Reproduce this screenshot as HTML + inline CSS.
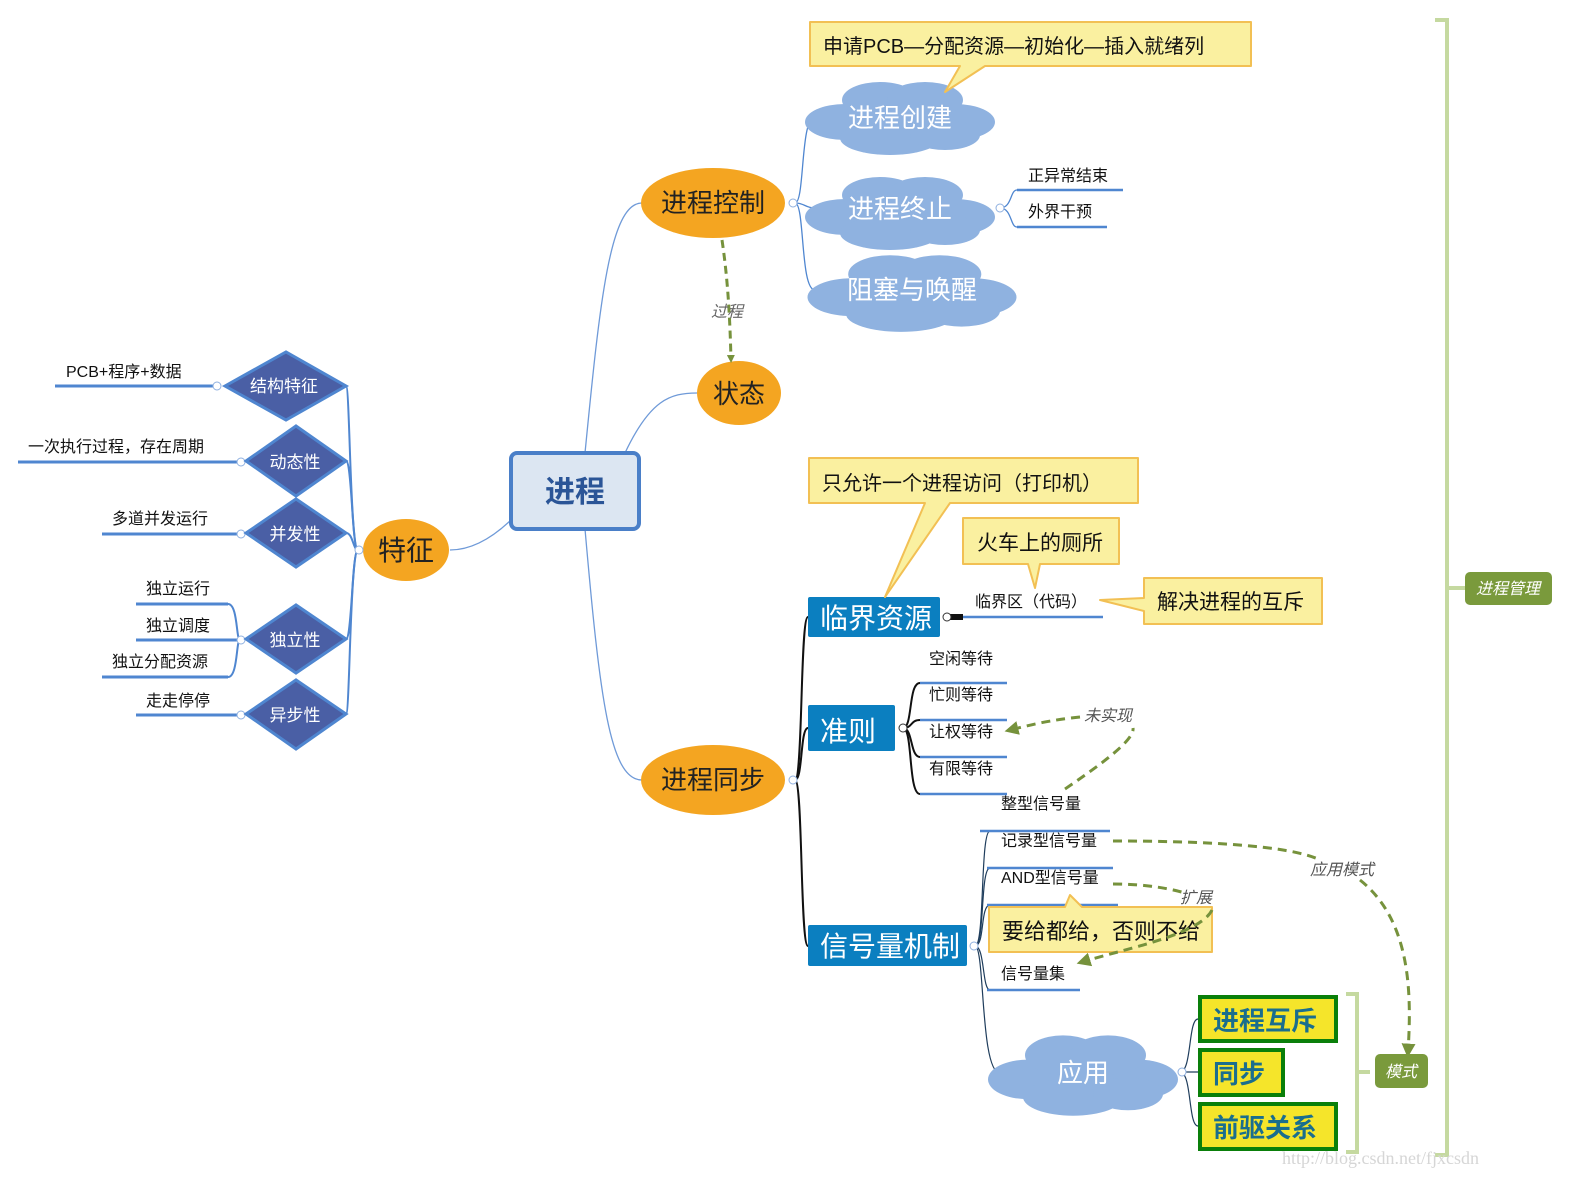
<!DOCTYPE html>
<html><head><meta charset="utf-8"><style>
html,body{margin:0;padding:0;background:#fff;}
svg{display:block;font-family:"Liberation Sans","Noto Sans CJK SC",sans-serif;}
</style></head><body>
<svg width="1589" height="1192" viewBox="0 0 1589 1192" xmlns="http://www.w3.org/2000/svg">
<defs>
<marker id="ar" markerWidth="8" markerHeight="8" refX="5" refY="4" orient="auto" markerUnits="userSpaceOnUse"><path d="M0,0 L8,4 L0,8 z" fill="#76923c"/></marker>
<marker id="ar2" viewBox="0 0 10 10" markerWidth="14" markerHeight="14" refX="6" refY="5" orient="auto" markerUnits="userSpaceOnUse"><path d="M0,0 L10,5 L0,10 z" fill="#76923c"/></marker>
<g id="cloud">
<ellipse cx="0" cy="0" rx="70" ry="22"/>
<ellipse cx="-55" cy="4" rx="40" ry="18"/>
<ellipse cx="55" cy="4" rx="40" ry="18"/>
<ellipse cx="-20" cy="-18" rx="38" ry="18"/>
<ellipse cx="25" cy="-18" rx="38" ry="18"/>
<ellipse cx="-10" cy="20" rx="50" ry="17"/>
<ellipse cx="45" cy="17" rx="35" ry="15"/>
</g>
</defs>

<g fill="none" stroke="#6f9ad8" stroke-width="1.3">
<path d="M585,453 C600,300 610,203 642,203"/>
<path d="M625,453 C650,400 670,393 697,393"/>
<path d="M511,520 C490,540 470,550 450,550"/>
<path d="M585,529 C600,700 610,780 642,780"/>
</g>

<rect x="511" y="453" width="128" height="76" rx="6" fill="#dce6f2" stroke="#4a7fc8" stroke-width="4"/>
<text x="575" y="502" font-size="30" font-weight="bold" fill="#2b5597" text-anchor="middle">进程</text>

<g fill="#f4a521">
<ellipse cx="713" cy="203" rx="72" ry="35"/>
<ellipse cx="739" cy="393" rx="42" ry="32"/>
<ellipse cx="406" cy="550" rx="43" ry="31"/>
<ellipse cx="713" cy="780" rx="72" ry="35"/>
</g>
<g font-size="26" fill="#222" text-anchor="middle">
<text x="713" y="212">进程控制</text>
<text x="739" y="403">状态</text>
<text x="406" y="560" font-size="28">特征</text>
<text x="713" y="789">进程同步</text>
</g>

<path d="M722,240 C728,280 730,320 731,360" fill="none" stroke="#76923c" stroke-width="3" stroke-dasharray="8,5" marker-end="url(#ar)"/>
<text x="727" y="317" font-size="16" font-style="italic" fill="#666" text-anchor="middle">过程</text>

<g fill="none" stroke="#4f86d0" stroke-width="2">
<path d="M358,550 C350,550 350,386 346,386"/>
<path d="M358,550 C352,550 352,461 346,461"/>
<path d="M358,550 C353,550 353,533 346,533"/>
<path d="M358,550 C352,550 352,639 346,639"/>
<path d="M358,550 C350,550 350,714 346,714"/>
<line x1="55" y1="386" x2="215" y2="386" stroke-width="3"/>
<line x1="18" y1="462" x2="240" y2="462" stroke-width="3"/>
<line x1="102" y1="534" x2="240" y2="534" stroke-width="3"/>
<line x1="136" y1="604" x2="228" y2="604" stroke-width="3"/>
<line x1="136" y1="640" x2="240" y2="640" stroke-width="3"/>
<line x1="102" y1="677" x2="228" y2="677" stroke-width="3"/>
<line x1="136" y1="715" x2="240" y2="715" stroke-width="3"/>
<path d="M228,604 C238,604 236,640 240,640 C236,640 238,677 228,677"/>
</g>
<g fill="#fff" stroke="#8fb0e0" stroke-width="1">
<circle cx="217" cy="386" r="4"/><circle cx="241" cy="462" r="4"/><circle cx="241" cy="534" r="4"/><circle cx="241" cy="640" r="4"/><circle cx="241" cy="715" r="4"/><circle cx="359" cy="550" r="4"/>
</g>
<g fill="#4a5fa5" stroke="#4f86d0" stroke-width="3">
<polygon points="225,386 286,352 346,386 286,420"/>
<polygon points="246,461 296,426 346,461 296,496"/>
<polygon points="246,533 296,499 346,533 296,567"/>
<polygon points="246,639 296,605 346,639 296,673"/>
<polygon points="246,714 296,680 346,714 296,749"/>
</g>
<g font-size="17" fill="#fff" text-anchor="middle">
<text x="284" y="392">结构特征</text>
<text x="295" y="468">动态性</text>
<text x="295" y="540">并发性</text>
<text x="295" y="646">独立性</text>
<text x="295" y="721">异步性</text>
</g>
<g font-size="16" fill="#111">
<text x="66" y="377">PCB+程序+数据</text>
<text x="28" y="452">一次执行过程，存在周期</text>
<text x="112" y="524">多道并发运行</text>
<text x="146" y="594">独立运行</text>
<text x="146" y="631">独立调度</text>
<text x="112" y="667">独立分配资源</text>
<text x="146" y="706">走走停停</text>
</g>

<g fill="none" stroke="#4f86d0" stroke-width="1.3">
<path d="M795,203 C805,203 800,117 815,117"/>
<path d="M795,203 C805,203 805,208 815,208"/>
<path d="M795,203 C805,203 800,290 815,290"/>
<path d="M1000,208 C1012,208 1010,190 1017,190"/>
<path d="M1000,208 C1012,208 1010,227 1017,227"/>
</g>
<g stroke="#4f86d0" stroke-width="2.5">
<line x1="1017" y1="190" x2="1123" y2="190"/>
<line x1="1017" y1="227" x2="1107" y2="227"/>
</g>
<g fill="#fff" stroke="#8fb0e0"><circle cx="793" cy="203" r="4"/><circle cx="1000" cy="208" r="4"/></g>
<g fill="#8fb2e0">
<use href="#cloud" x="900" y="118"/>
<use href="#cloud" x="900" y="213"/>
<use href="#cloud" transform="translate(912,293) scale(1.1,1.05)"/>
</g>
<g font-size="26" fill="#fff" text-anchor="middle">
<text x="900" y="127">进程创建</text>
<text x="900" y="218">进程终止</text>
<text x="912" y="299">阻塞与唤醒</text>
</g>
<g font-size="16" fill="#111">
<text x="1028" y="181">正异常结束</text>
<text x="1028" y="217">外界干预</text>
</g>
<path d="M810,22 H1251 V66 H985 L945,92 L960,66 H810 Z" fill="#faf0a0" stroke="#f2c054" stroke-width="2" stroke-linejoin="round"/>
<text x="823" y="53" font-size="20" fill="#111">申请PCB—分配资源—初始化—插入就绪列</text>

<g fill="none" stroke="#111" stroke-width="2">
<path d="M795,780 C803,780 800,617 808,617"/>
<path d="M795,780 C803,780 800,728 808,728"/>
<path d="M795,780 C803,780 800,946 808,946"/>
<path d="M903,728 C913,728 908,683 920,683"/>
<path d="M903,728 C913,728 910,720 920,720"/>
<path d="M903,728 C913,728 910,757 920,757"/>
<path d="M903,728 C913,728 908,794 920,794"/>
</g>
<g fill="none" stroke="#1f3d5c" stroke-width="1.2">
<path d="M975,946 C985,946 980,831 990,831"/>
<path d="M975,946 C985,946 980,868 990,868"/>
<path d="M975,946 C985,946 980,905 990,905"/>
<path d="M975,946 C985,946 982,990 990,990"/>
<path d="M975,946 C985,946 980,1073 1000,1073"/>
<path d="M1180,1072 C1192,1072 1188,1019 1198,1019"/>
<path d="M1180,1072 C1192,1072 1190,1072 1198,1072"/>
<path d="M1180,1072 C1192,1072 1188,1126 1198,1126"/>
</g>
<g stroke="#4f86d0" stroke-width="2.5">
<line x1="960" y1="617" x2="1103" y2="617"/>
<line x1="920" y1="683" x2="1007" y2="683"/>
<line x1="920" y1="720" x2="1007" y2="720"/>
<line x1="920" y1="757" x2="1007" y2="757"/>
<line x1="920" y1="794" x2="1007" y2="794"/>
<line x1="980" y1="831" x2="1110" y2="831"/>
<line x1="987" y1="868" x2="1113" y2="868"/>
<line x1="987" y1="905" x2="1118" y2="905"/>
<line x1="987" y1="990" x2="1080" y2="990"/>
</g>
<rect x="945" y="614" width="18" height="6" fill="#111"/>
<g fill="#fff" stroke="#8fb0e0"><circle cx="793" cy="780" r="4"/><circle cx="974" cy="946" r="4"/><circle cx="1182" cy="1072" r="4"/></g>
<g fill="#fff" stroke="#333"><circle cx="947" cy="617" r="4"/><circle cx="903" cy="728" r="4"/></g>

<g fill="#0b7fc0">
<rect x="808" y="597" width="132" height="40" rx="2"/>
<rect x="808" y="705" width="87" height="46" rx="2"/>
<rect x="808" y="925" width="159" height="41" rx="2"/>
</g>
<g font-size="28" fill="#fff">
<text x="820" y="628">临界资源</text>
<text x="820" y="741">准则</text>
<text x="820" y="956">信号量机制</text>
</g>

<path d="M809,458 H1138 V503 H950 L885,597 L925,503 H809 Z" fill="#faf0a0" stroke="#f2c054" stroke-width="2" stroke-linejoin="round"/>
<text x="822" y="490" font-size="20" fill="#111">只允许一个进程访问（打印机）</text>
<path d="M963,518 H1119 V564 H1040 L1035,588 L1028,564 H963 Z" fill="#faf0a0" stroke="#f2c054" stroke-width="2" stroke-linejoin="round"/>
<text x="977" y="550" font-size="21" fill="#111">火车上的厕所</text>
<path d="M1144,578 H1322 V624 H1144 V611 L1100,600 L1144,598 Z" fill="#faf0a0" stroke="#f2c054" stroke-width="2" stroke-linejoin="round"/>
<text x="1157" y="609" font-size="21" fill="#111">解决进程的互斥</text>
<path d="M989,907 H1065 L1070,895 L1082,907 H1212 V952 H989 Z" fill="#faf0a0" stroke="#f2c054" stroke-width="2" stroke-linejoin="round"/>
<text x="1002" y="939" font-size="22" fill="#111">要给都给，否则不给</text>

<g font-size="16" fill="#111">
<text x="975" y="607">临界区（代码）</text>
<text x="929" y="664">空闲等待</text>
<text x="929" y="700">忙则等待</text>
<text x="929" y="737">让权等待</text>
<text x="929" y="774">有限等待</text>
<text x="1001" y="809">整型信号量</text>
<text x="1001" y="846">记录型信号量</text>
<text x="1001" y="883">AND型信号量</text>
<text x="1001" y="979">信号量集</text>
</g>

<g fill="none" stroke="#76923c" stroke-width="3" stroke-dasharray="9,6">
<path d="M1065,789 C1100,765 1135,740 1133,728"/>
<path d="M1080,717 C1050,720 1030,725 1010,730" marker-end="url(#ar2)"/>
<path d="M1113,841 C1200,841 1290,845 1320,860"/>
<path d="M1360,880 C1410,920 1412,990 1408,1052" marker-end="url(#ar2)"/>
<path d="M1113,884 C1150,884 1175,890 1185,893"/>
<path d="M1212,910 C1200,935 1120,950 1082,962" marker-end="url(#ar2)"/>
</g>
<g font-size="16" font-style="italic" fill="#555">
<text x="1084" y="721">未实现</text>
<text x="1310" y="875">应用模式</text>
<text x="1180" y="903">扩展</text>
</g>

<use href="#cloud" transform="translate(1083,1075) scale(1.0,1.1)" fill="#8fb2e0"/>
<text x="1083" y="1082" font-size="26" fill="#fff" text-anchor="middle">应用</text>

<g fill="#f5e52a" stroke="#0a7f0a" stroke-width="4">
<rect x="1200" y="997" width="136" height="44"/>
<rect x="1200" y="1050" width="83" height="45"/>
<rect x="1200" y="1104" width="136" height="45"/>
</g>
<g font-size="26" font-weight="bold" fill="#1a6e8e">
<text x="1213" y="1030">进程互斥</text>
<text x="1213" y="1083">同步</text>
<text x="1213" y="1137">前驱关系</text>
</g>

<g fill="none" stroke="#c5d9a0" stroke-width="4">
<path d="M1346,994 H1357 V1152 H1346"/>
<line x1="1357" y1="1072" x2="1370" y2="1072"/>
<path d="M1435,20 H1447 V1155 H1435"/>
<line x1="1447" y1="588" x2="1465" y2="588"/>
</g>
<rect x="1375" y="1054" width="53" height="34" rx="5" fill="#7a9a3c"/>
<text x="1401" y="1077" font-size="16" font-style="italic" fill="#fff" text-anchor="middle">模式</text>
<rect x="1465" y="572" width="87" height="33" rx="5" fill="#7a9a3c"/>
<text x="1508" y="594" font-size="16" font-style="italic" fill="#fff" text-anchor="middle">进程管理</text>

<text x="1282" y="1164" font-size="18" fill="#d6d6d6" font-family="Liberation Serif, serif">http://blog.csdn.net/fjxcsdn</text>
</svg>
</body></html>
